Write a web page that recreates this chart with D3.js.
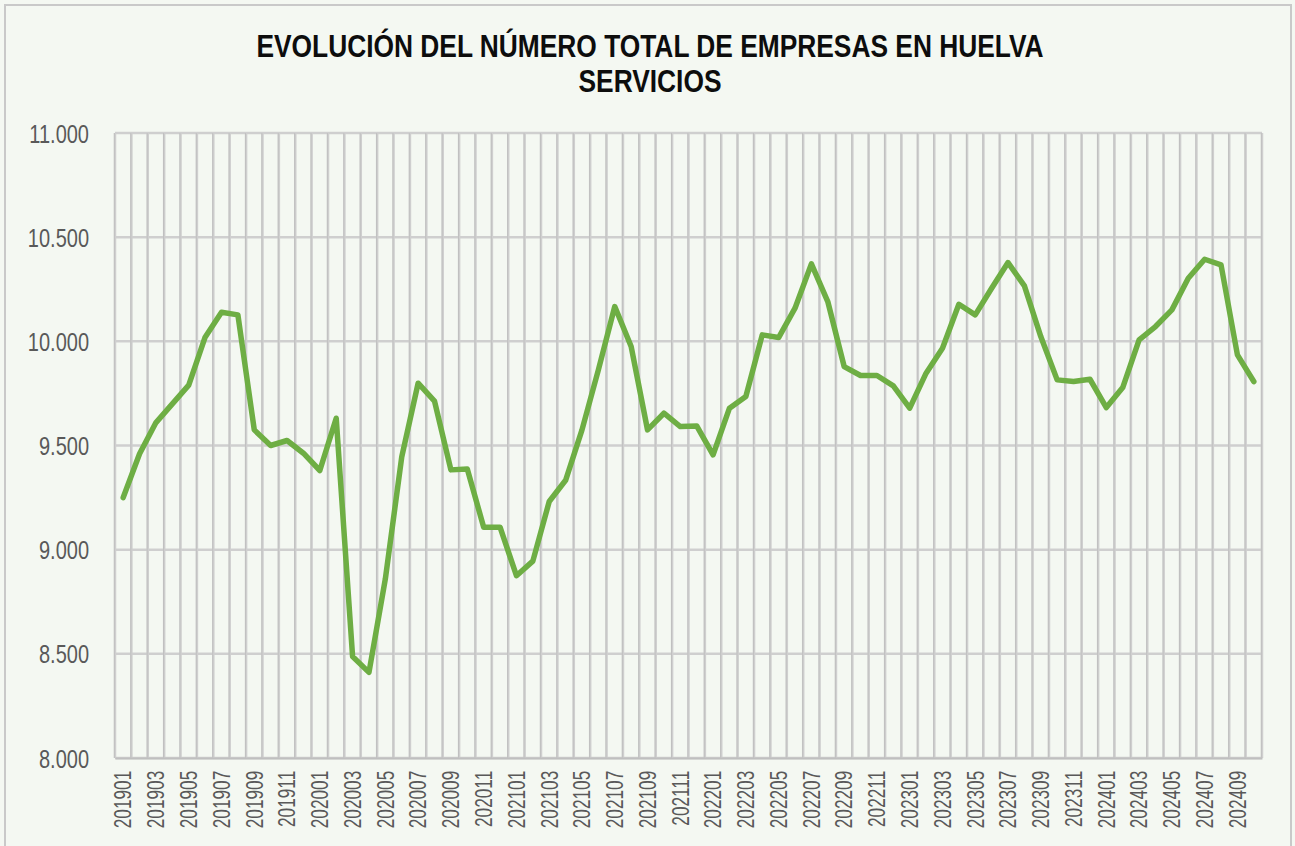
<!DOCTYPE html>
<html>
<head>
<meta charset="utf-8">
<script src="https://cdn.jsdelivr.net/npm/d3@7"></script>
<style>
  html, body { margin: 0; padding: 0; background: #f4f8f2; }
  svg { display: block; }
  .title { font-family: "Liberation Sans Narrow", "Arial Narrow", "Liberation Sans", Arial, sans-serif; font-weight: bold; font-size: 31px; fill: #0d0d0d; }
  .tick text { font-family: "Liberation Sans Narrow", "Arial Narrow", "Liberation Sans", Arial, sans-serif; fill: #595959; }
</style>
</head>
<body>
<svg id="chart" width="1295" height="846"></svg>
<script>
// Monthly periods, January 2019 to October 2024
const months = [
  "201901","201902","201903","201904","201905","201906","201907","201908","201909","201910","201911","201912",
  "202001","202002","202003","202004","202005","202006","202007","202008","202009","202010","202011","202012",
  "202101","202102","202103","202104","202105","202106","202107","202108","202109","202110","202111","202112",
  "202201","202202","202203","202204","202205","202206","202207","202208","202209","202210","202211","202212",
  "202301","202302","202303","202304","202305","202306","202307","202308","202309","202310","202311","202312",
  "202401","202402","202403","202404","202405","202406","202407","202408","202409","202410"
];

// Total number of companies, services sector, Huelva
const empresas = [
  9250, 9460, 9610, 9700, 9790, 10020, 10140, 10127, 9575, 9500, 9524, 9463,
  9380, 9631, 8487, 8411, 8860, 9445, 9799, 9713, 9383, 9387, 9108, 9108,
  8875, 8945, 9231, 9333, 9575, 9863, 10167, 9975, 9575, 9655, 9591, 9594,
  9455, 9679, 9735, 10031, 10018, 10159, 10372, 10191, 9879, 9836, 9836, 9786,
  9679, 9847, 9967, 10178, 10127, 10255, 10378, 10266, 10023, 9815, 9807, 9818,
  9682, 9778, 10007, 10071, 10151, 10303, 10394, 10367, 9935, 9807
];

const yTicks = [8000, 8500, 9000, 9500, 10000, 10500, 11000];
const titleLines = ["EVOLUCIÓN DEL NÚMERO TOTAL DE EMPRESAS EN HUELVA", "SERVICIOS"];

const svg = d3.select("#chart");
const plot = { left: 115, right: 1262, top: 133, bottom: 758 };

// Chart frame
svg.append("rect")
  .attr("x", 5).attr("y", 5)
  .attr("width", 1286).attr("height", 850)
  .attr("fill", "#f4f8f2")
  .attr("stroke", "#c9c9c9")
  .attr("stroke-width", 2);

// Title, condensed horizontally
svg.append("text")
  .attr("class", "title")
  .attr("text-anchor", "middle")
  .attr("transform", "translate(650,0) scale(0.85,1)")
  .selectAll("tspan")
  .data(titleLines)
  .join("tspan")
  .attr("x", 0)
  .attr("y", (d, i) => 57 + i * 35)
  .text(d => d);

const x = d3.scaleBand()
  .domain(months)
  .range([plot.left, plot.right])
  .padding(0);

const y = d3.scaleLinear()
  .domain([8000, 11000])
  .range([plot.bottom, plot.top]);

const fmt = v => d3.format(",")(v).replace(/,/g, ".");

// Horizontal gridlines
svg.append("g")
  .selectAll("line")
  .data(yTicks)
  .join("line")
  .attr("x1", plot.left).attr("x2", plot.right)
  .attr("y1", d => y(d)).attr("y2", d => y(d))
  .attr("stroke", "#cfcfcf")
  .attr("stroke-width", 2.5);

// Vertical gridlines at category boundaries
const bounds = months.map(m => x(m)).concat([plot.right]);
svg.append("g")
  .selectAll("line")
  .data(bounds)
  .join("line")
  .attr("x1", d => d).attr("x2", d => d)
  .attr("y1", plot.top).attr("y2", plot.bottom)
  .attr("stroke", "#cfcfcf")
  .attr("stroke-width", 2.5);

// Darker centre strokes of the grid
svg.append("g")
  .selectAll("line")
  .data(bounds)
  .join("line")
  .attr("x1", d => d - 0.6).attr("x2", d => d - 0.6)
  .attr("y1", plot.top).attr("y2", plot.bottom)
  .attr("stroke", "#bdbdbd")
  .attr("stroke-width", 0.8);

// Y axis
const yAxis = svg.append("g")
  .attr("transform", `translate(${plot.left},0)`)
  .call(d3.axisLeft(y).tickValues(yTicks).tickFormat(fmt).tickSize(0));
yAxis.select(".domain").remove();
yAxis.selectAll(".tick text")
  .style("font-size", "25px")
  .attr("x", 0)
  .attr("dy", "0.36em")
  .attr("text-anchor", "end")
  .attr("transform", "translate(-26,0) scale(0.8,1)");

// X axis (every other month labelled)
const xAxis = svg.append("g")
  .attr("transform", `translate(0,${plot.bottom})`)
  .call(d3.axisBottom(x)
    .tickValues(months.filter((d, i) => i % 2 === 0))
    .tickSize(0));
xAxis.select(".domain")
  .attr("stroke", "#bfbfbf")
  .attr("stroke-width", 2);
xAxis.selectAll(".tick text")
  .style("font-size", "23px")
  .attr("text-anchor", "end")
  .attr("transform", "rotate(-90) scale(0.75,1)")
  .attr("x", -17)
  .attr("y", 0)
  .attr("dy", "0.36em");

// Series line
const line = d3.line()
  .x((d, i) => x(months[i]) + x.bandwidth() / 2)
  .y(d => y(d));

svg.append("path")
  .datum(empresas)
  .attr("fill", "none")
  .attr("stroke", "#6eae44")
  .attr("stroke-width", 5.5)
  .attr("stroke-linejoin", "round")
  .attr("stroke-linecap", "round")
  .attr("d", line);
</script>
</body>
</html>
